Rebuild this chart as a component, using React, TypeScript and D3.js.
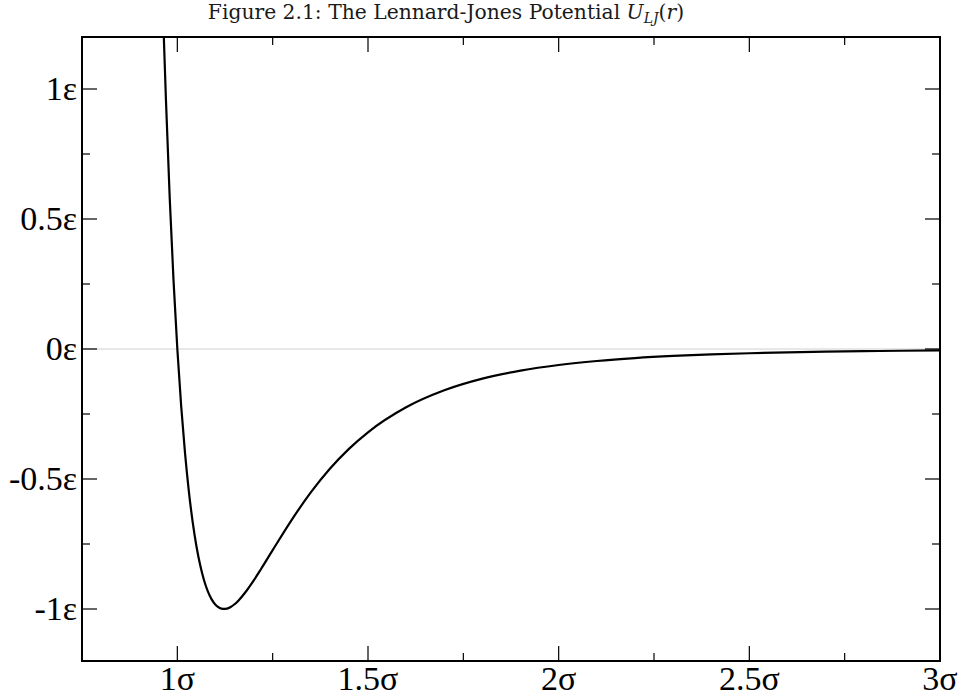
import React from "react";
import * as d3 from "d3";

const rValues = [0.955, 0.96, 0.965, 0.97, 0.98, 0.99, 1.0, 1.01, 1.02, 1.03, 1.04, 1.05, 1.06, 1.07, 1.08, 1.09, 1.1, 1.11, 1.12, 1.13, 1.14, 1.15, 1.16, 1.18, 1.2, 1.22, 1.25, 1.3, 1.35, 1.4, 1.45, 1.5, 1.6, 1.7, 1.8, 1.9, 2.0, 2.1, 2.2, 2.3, 2.4, 2.5, 2.6, 2.7, 2.8, 2.9, 3.0];
const uValues = [1.678, 1.418, 1.1805, 0.9629, 0.5819, 0.2641, 0, -0.2184, -0.3979, -0.5444, -0.6629, -0.7575, -0.832, -0.8893, -0.9322, -0.9629, -0.9834, -0.9952, -0.9998, -0.9985, -0.9921, -0.9817, -0.9679, -0.9328, -0.891, -0.8452, -0.7737, -0.657, -0.5516, -0.4607, -0.3841, -0.3203, -0.2242, -0.1589, -0.1141, -0.0832, -0.0615, -0.0461, -0.035, -0.0268, -0.0208, -0.0163, -0.0129, -0.0103, -0.0083, -0.0067, -0.0055];

const xMajor = [1, 1.5, 2, 2.5, 3];
const xMajorLabels = ["1σ", "1.5σ", "2σ", "2.5σ", "3σ"];
const xMinor = [1.25, 1.75, 2.25, 2.75];
const yMajor = [1, 0.5, 0, -0.5, -1];
const yMajorLabels = ["1ε", "0.5ε", "0ε", "-0.5ε", "-1ε"];
const yMinor = [0.75, 0.25, -0.25, -0.75];
const title = "Figure 2.1: The Lennard-Jones Potential ";

export default function App() {
  const W = 961, H = 697;
  const left = 82, right = 940, top = 37, bottom = 661;
  const x = d3.scaleLinear().domain([0.75, 3]).range([left, right]);
  const y = d3.scaleLinear().domain([-1.2, 1.2]).range([bottom, top]);
  const pts: [number, number][] = rValues.map((r, i) => [r, uValues[i]]);
  const line = d3.line<[number, number]>().x(d => x(d[0])).y(d => y(d[1])).curve(d3.curveMonotoneX);
  const font = "'Liberation Serif', 'Times New Roman', serif";
  const titleFont = "'DejaVu Serif', serif";
  const majL = 15, minL = 8;
  return (
    <svg width={W} height={H} style={{ position: "absolute", left: 0, top: 0, background: "#fff" }}>
      <defs>
        <clipPath id="plot">
          <rect x={left} y={top} width={right - left} height={bottom - top} />
        </clipPath>
      </defs>
      <rect x={0} y={0} width={W} height={H} fill="#fff" />
      <text x={446} y={19} textAnchor="middle" fontFamily={titleFont} fontSize={20.3} fill="#1a1a1a">
        {title}
        <tspan fontStyle="italic">U</tspan>
        <tspan fontStyle="italic" fontSize={14} dy={4}>LJ</tspan>
        <tspan dy={-4}>(</tspan>
        <tspan fontStyle="italic">r</tspan>
        <tspan>)</tspan>
      </text>
      <line x1={left} x2={right} y1={y(0)} y2={y(0)} stroke="#d0d0d0" strokeWidth={1} />
      <g clipPath="url(#plot)">
        <path d={line(pts) || ""} fill="none" stroke="#000" strokeWidth={2.2} />
      </g>
      {xMajor.map((v, i) => (
        <g key={"xM" + i}>
          <line x1={x(v)} x2={x(v)} y1={bottom} y2={bottom - majL} stroke="#000" strokeWidth={1.2} />
          <line x1={x(v)} x2={x(v)} y1={top} y2={top + majL} stroke="#000" strokeWidth={1.2} />
          <text x={x(v)} y={690} textAnchor="middle" fontFamily={font} fontSize={34} fill="#000">{xMajorLabels[i]}</text>
        </g>
      ))}
      {xMinor.map((v, i) => (
        <g key={"xm" + i}>
          <line x1={x(v)} x2={x(v)} y1={bottom} y2={bottom - minL} stroke="#000" strokeWidth={1.2} />
          <line x1={x(v)} x2={x(v)} y1={top} y2={top + minL} stroke="#000" strokeWidth={1.2} />
        </g>
      ))}
      {yMajor.map((v, i) => (
        <g key={"yM" + i}>
          <line x1={left} x2={left + majL} y1={y(v)} y2={y(v)} stroke="#000" strokeWidth={1.2} />
          <line x1={right} x2={right - majL} y1={y(v)} y2={y(v)} stroke="#000" strokeWidth={1.2} />
          <text x={77} y={y(v) + 11} textAnchor="end" fontFamily={font} fontSize={34} fill="#000">{yMajorLabels[i]}</text>
        </g>
      ))}
      {yMinor.map((v, i) => (
        <g key={"ym" + i}>
          <line x1={left} x2={left + minL} y1={y(v)} y2={y(v)} stroke="#000" strokeWidth={1.2} />
          <line x1={right} x2={right - minL} y1={y(v)} y2={y(v)} stroke="#000" strokeWidth={1.2} />
        </g>
      ))}
      <rect x={left} y={top} width={right - left} height={bottom - top} fill="none" stroke="#000" strokeWidth={2} />
    </svg>
  );
}
